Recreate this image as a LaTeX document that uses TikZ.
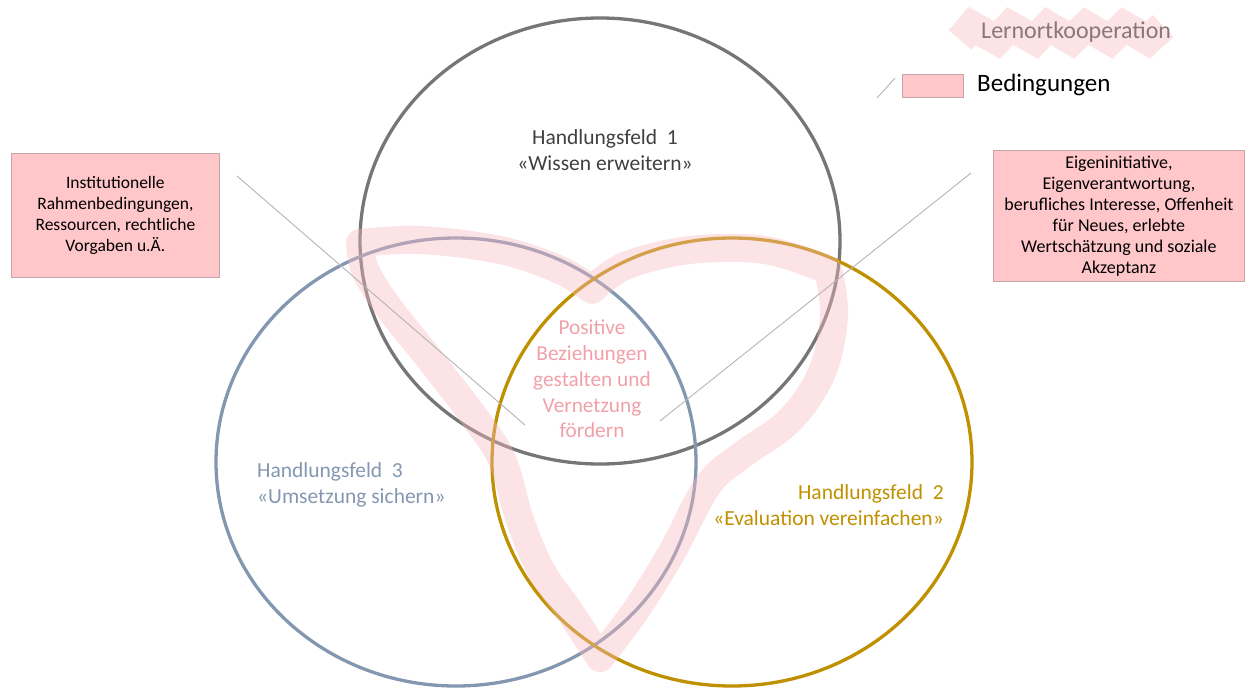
\documentclass[tikz,border=0pt]{standalone}
\usepackage{fontspec}
\setmainfont{Carlito}
\definecolor{ringgray}{HTML}{767676}
\definecolor{ringblue}{HTML}{8497B0}
\definecolor{ringgold}{HTML}{BF9000}
\definecolor{bandpink}{HTML}{F7B9BF}
\definecolor{boxfill}{HTML}{FFC7CA}
\definecolor{boxline}{HTML}{C4A4A6}
\definecolor{centertext}{HTML}{F2A0A8}
\definecolor{darktext}{HTML}{404040}
\definecolor{legtext}{HTML}{8E7577}
\definecolor{thinline}{HTML}{B4B4B4}
\begin{document}
\begin{tikzpicture}[x=1pt,y=-1pt,
  ring/.style={line width=3.3pt},
  band/.style={draw=bandpink, draw opacity=0.4, line width=28pt, line join=round, line cap=butt},
  boxstyle/.style={draw=boxline, fill=boxfill, line width=0.8pt, align=center, inner sep=0pt, text=black},
  pointer/.style={draw=thinline, line width=0.9pt},
  label/.style={align=center, inner sep=0pt}]
\useasboundingbox (0,0) rectangle (1246,688);

% circles
\draw[ring, draw=ringgray] (600,241) ellipse [x radius=240pt, y radius=223pt];
\draw[ring, draw=ringblue] (456,462) ellipse [x radius=240pt, y radius=224pt];
\draw[ring, draw=ringgold] (732,462) ellipse [x radius=240pt, y radius=224pt];

% Lernortkooperation band
\draw[band] plot[smooth, tension=0.6] coordinates {(360,243) (420,240) (500,250) (560,270) (592,290)}
  -- plot[smooth, tension=0.6] coordinates {(592,290) (625,266) (690,250) (765,250) (828,270)}
  -- plot[smooth, tension=0.6] coordinates {(828,270) (834,315) (822,372) (790,420) (742,455) (708,485) (672,552) (636,610) (600,658)}
  -- plot[smooth, tension=0.6] coordinates {(600,658) (570,612) (541,570) (520,520) (503,462) (478,422) (432,362) (392,312) (366,272) (360,243)} -- cycle;

% legend band
\draw[band, line width=30pt, line join=miter] (960,40) -- (972,26) -- (997,40) -- (1010,26) -- (1035,40) -- (1048,26) -- (1072,40) -- (1086,26) -- (1110,40) -- (1124,26) -- (1148,40) -- (1163,26);
\node[anchor=west, inner sep=0pt, text=legtext, font=\fontsize{24}{28}\selectfont] (lerntxt) at (981,32) {Lernortkooperation};

% legend Bedingungen
\node[draw=boxline, fill=boxfill, line width=0.8pt, minimum width=61pt, minimum height=23pt, inner sep=0pt, anchor=north west] (legbox) at (902,74) {};
\node[anchor=west, inner sep=0pt, font=\fontsize{25}{29}\selectfont] (legtxt) at (977,85) {Bedingungen};
\coordinate (g1) at (877,98);
\coordinate (g2) at (895,78);
\draw[pointer] (g1) -- (g2);

% field labels
\node[label, text=darktext, font=\fontsize{21.5}{26}\selectfont] (hf1) at (605,150) {Handlungsfeld~~1\\«Wissen erweitern»};
\node[label, align=left, anchor=west, text=ringblue, font=\fontsize{21.5}{26}\selectfont] (hf3) at (257,485) {Handlungsfeld~~3\\«Umsetzung sichern»};
\node[label, align=right, anchor=east, text=ringgold, font=\fontsize{21.5}{26}\selectfont] (hf2) at (944,505) {Handlungsfeld~~2\\«Evaluation vereinfachen»};

% center
\node[label, text=centertext, font=\fontsize{21.3}{25.8}\selectfont] (center) at (592,379) {Positive\\Beziehungen\\gestalten und\\Vernetzung\\fördern};

% boxes
\node[boxstyle, minimum width=208pt, minimum height=124pt, anchor=north west, font=\fontsize{17.5}{20.8}\selectfont] (lbox) at (11,153) {Institutionelle\\Rahmenbedingungen,\\Ressourcen, rechtliche\\Vorgaben u.Ä.};
\node[boxstyle, minimum width=251pt, minimum height=131pt, anchor=north west, font=\fontsize{18}{21}\selectfont] (rbox) at (993,150) {Eigeninitiative,\\Eigenverantwortung,\\berufliches Interesse, Offenheit\\für Neues, erlebte\\Wertschätzung und soziale\\Akzeptanz};

% pointers
\coordinate (l1) at (237,176);
\coordinate (l2) at (525,425);
\coordinate (r1) at (971,173);
\coordinate (r2) at (660,421);
\draw[pointer] (l1) -- (l2);
\draw[pointer] (r1) -- (r2);
\end{tikzpicture}
\end{document}
